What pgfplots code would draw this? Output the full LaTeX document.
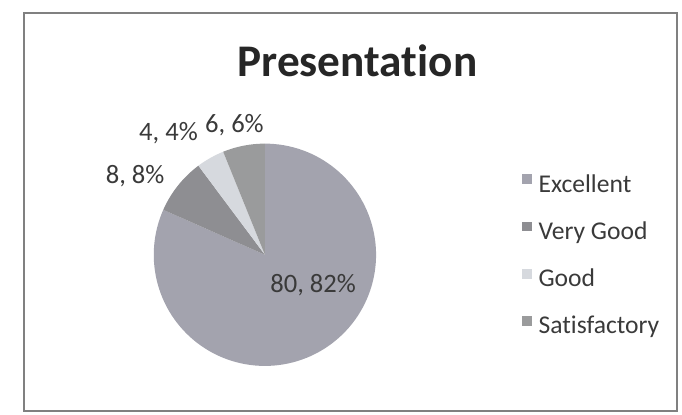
\documentclass[border=0pt]{standalone}
\usepackage{fontspec}
\setmainfont[Ligatures=NoCommon]{Carlito}
\usepackage{pgfplots}
\usepackage{pgfplotstable}
\pgfplotsset{compat=1.18}
\definecolor{cExc}{HTML}{A3A3AE}
\definecolor{cVG}{HTML}{8E8E92}
\definecolor{cGood}{HTML}{D6D9DE}
\definecolor{cSat}{HTML}{9A9B9C}
\definecolor{lbl}{HTML}{3A3A3A}
\pgfplotstableread{
name value
Excellent 80
VeryGood 8
Good 4
Satisfactory 6
}\piedata
\begin{document}
\pgfplotstablegetelem{0}{value}\of\piedata \let\vA\pgfplotsretval
\pgfplotstablegetelem{1}{value}\of\piedata \let\vB\pgfplotsretval
\pgfplotstablegetelem{2}{value}\of\piedata \let\vC\pgfplotsretval
\pgfplotstablegetelem{3}{value}\of\piedata \let\vD\pgfplotsretval
\pgfmathsetmacro{\tot}{\vA+\vB+\vC+\vD}
\pgfmathsetmacro{\aA}{90-(\vA/\tot)*360}
\pgfmathsetmacro{\aB}{\aA-(\vB/\tot)*360}
\pgfmathsetmacro{\aC}{\aB-(\vC/\tot)*360}
\pgfmathsetmacro{\aD}{\aC-(\vD/\tot)*360}
\begin{tikzpicture}
\begin{axis}[
  x=1pt, y=1pt, xmin=0, xmax=682, ymin=0, ymax=421,
  scale only axis, hide axis, clip=false,
  legend cell align=left,
  legend image code/.code={\fill[#1] (0pt,2pt) rectangle (10pt,12pt);},
  legend style={draw=none, fill=none, at={(axis cs:516,246)}, anchor=north west,
    font=\fontsize{26}{31}\selectfont, text=lbl,
    nodes={inner sep=0pt, text height=18pt, text depth=6pt},
    row sep=24pt,
    /tikz/every odd column/.append style={column sep=7pt}},
]
\path (axis cs:0,0) rectangle (axis cs:682,421);
\draw[line width=1.6pt, color=black!50] (axis cs:13,3) rectangle (axis cs:677,408);
\addplot[draw=none, fill=cExc, domain=\aA:90, samples=120] ({258+113*cos(x)},{162+113*sin(x)}) -- (axis cs:258,162) -- cycle;
\addlegendentry{Excellent}
\addplot[draw=none, fill=cVG, domain=\aB:\aA, samples=20] ({258+113*cos(x)},{162+113*sin(x)}) -- (axis cs:258,162) -- cycle;
\addlegendentry{Very Good}
\addplot[draw=none, fill=cGood, domain=\aC:\aB, samples=15] ({258+113*cos(x)},{162+113*sin(x)}) -- (axis cs:258,162) -- cycle;
\addlegendentry{Good}
\addplot[draw=none, fill=cSat, domain=\aD:\aC, samples=20] ({258+113*cos(x)},{162+113*sin(x)}) -- (axis cs:258,162) -- cycle;
\addlegendentry{Satisfactory}
\node[anchor=base, font=\bfseries\fontsize{46}{55}\selectfont, text=black!85] at (axis cs:352,343) {Presentation};
\node[anchor=base, font=\fontsize{27}{32}\selectfont, text=lbl] at (axis cs:307,124) {80, 82\%};
\node[anchor=base, font=\fontsize{27}{32}\selectfont, text=lbl] at (axis cs:126,234) {8, 8\%};
\node[anchor=base, font=\fontsize{27}{32}\selectfont, text=lbl] at (axis cs:160,278) {4, 4\%};
\node[anchor=base, font=\fontsize{27}{32}\selectfont, text=lbl] at (axis cs:227,286) {6, 6\%};
\end{axis}
\end{tikzpicture}
\end{document}
